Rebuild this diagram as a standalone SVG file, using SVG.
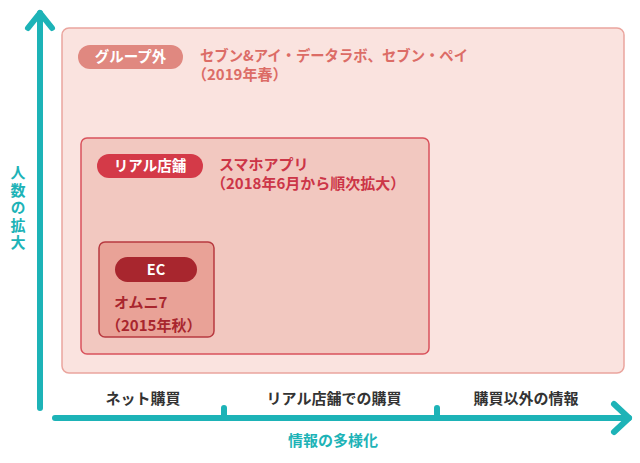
<svg xmlns="http://www.w3.org/2000/svg" width="640" height="463" viewBox="0 0 640 463">
<style>
text{font-family:"Noto Sans CJK JP","Noto Sans",sans-serif;}
.pilltxt{fill:#ffffff;font-weight:700;font-size:14.5px;text-anchor:middle;}
.axis{stroke:#1db3b7;stroke-width:6;stroke-linecap:round;stroke-linejoin:round;fill:none;}
.cat{fill:#333333;font-weight:700;font-size:15px;text-anchor:middle;}
.teal{fill:#1db3b7;font-weight:700;font-size:15px;text-anchor:middle;}
.body{font-size:15px;font-weight:700;}
</style>
<rect width="640" height="463" fill="#ffffff"/>
<g id="group-outside">
<rect x="62" y="28" width="562" height="345" rx="7" fill="#fae3df" stroke="#eaa59e" stroke-width="1.5"/>
<rect x="78" y="45" width="105" height="24" rx="12" fill="#e08880"/>
<text class="pilltxt" x="130.5" y="62">グループ外</text>
<text class="body" x="200" y="61" fill="#dc6c66" textLength="268" lengthAdjust="spacingAndGlyphs">セブン&amp;アイ・データラボ、セブン・ペイ</text>
<text class="body" x="192" y="80" fill="#dc6c66">（2019年春）</text>
</g>
<g id="real-store">
<rect x="81" y="138" width="348" height="216" rx="6" fill="#f2c8c0" stroke="#d9525c" stroke-width="1.5"/>
<rect x="97" y="154" width="106" height="24" rx="12" fill="#d43a48"/>
<text class="pilltxt" x="150" y="171">リアル店舗</text>
<text class="body" x="219" y="170" fill="#cc3547">スマホアプリ</text>
<text class="body" x="211" y="189" fill="#cc3547">（2018年6月から順次拡大）</text>
</g>
<g id="ec">
<rect x="99" y="242" width="115" height="95" rx="6" fill="#e9a297" stroke="#b83a40" stroke-width="1.5"/>
<rect x="115" y="257" width="82" height="25" rx="12.5" fill="#a8262e"/>
<text class="pilltxt" x="156" y="275" font-size="15">EC</text>
<text class="body" x="114" y="308" fill="#a8262e">オムニ7</text>
<text class="body" x="106" y="331" fill="#a8262e">（2015年秋）</text>
</g>
<g id="connectors">
<line class="axis" x1="40" y1="408" x2="40" y2="13"/>
<polyline class="axis" points="28,28 40,13 52,28"/>
<line class="axis" x1="55" y1="418" x2="629" y2="418"/>
<polyline class="axis" points="614,404 629,418 614,432"/>
<line class="axis" x1="224" y1="418" x2="224" y2="408"/>
<line class="axis" x1="437" y1="418" x2="437" y2="408"/>
</g>
<g id="y-label">
<text x="18" y="165" fill="#1db3b7" font-size="15" font-weight="700" writing-mode="vertical-rl" letter-spacing="2.5">人数の拡大</text>
</g>
<g id="x-labels">
<text class="cat" x="143" y="404">ネット購買</text>
<text class="cat" x="334" y="404">リアル店舗での購買</text>
<text class="cat" x="526" y="404">購買以外の情報</text>
<text class="teal" x="333" y="446">情報の多様化</text>
</g>
</svg>
